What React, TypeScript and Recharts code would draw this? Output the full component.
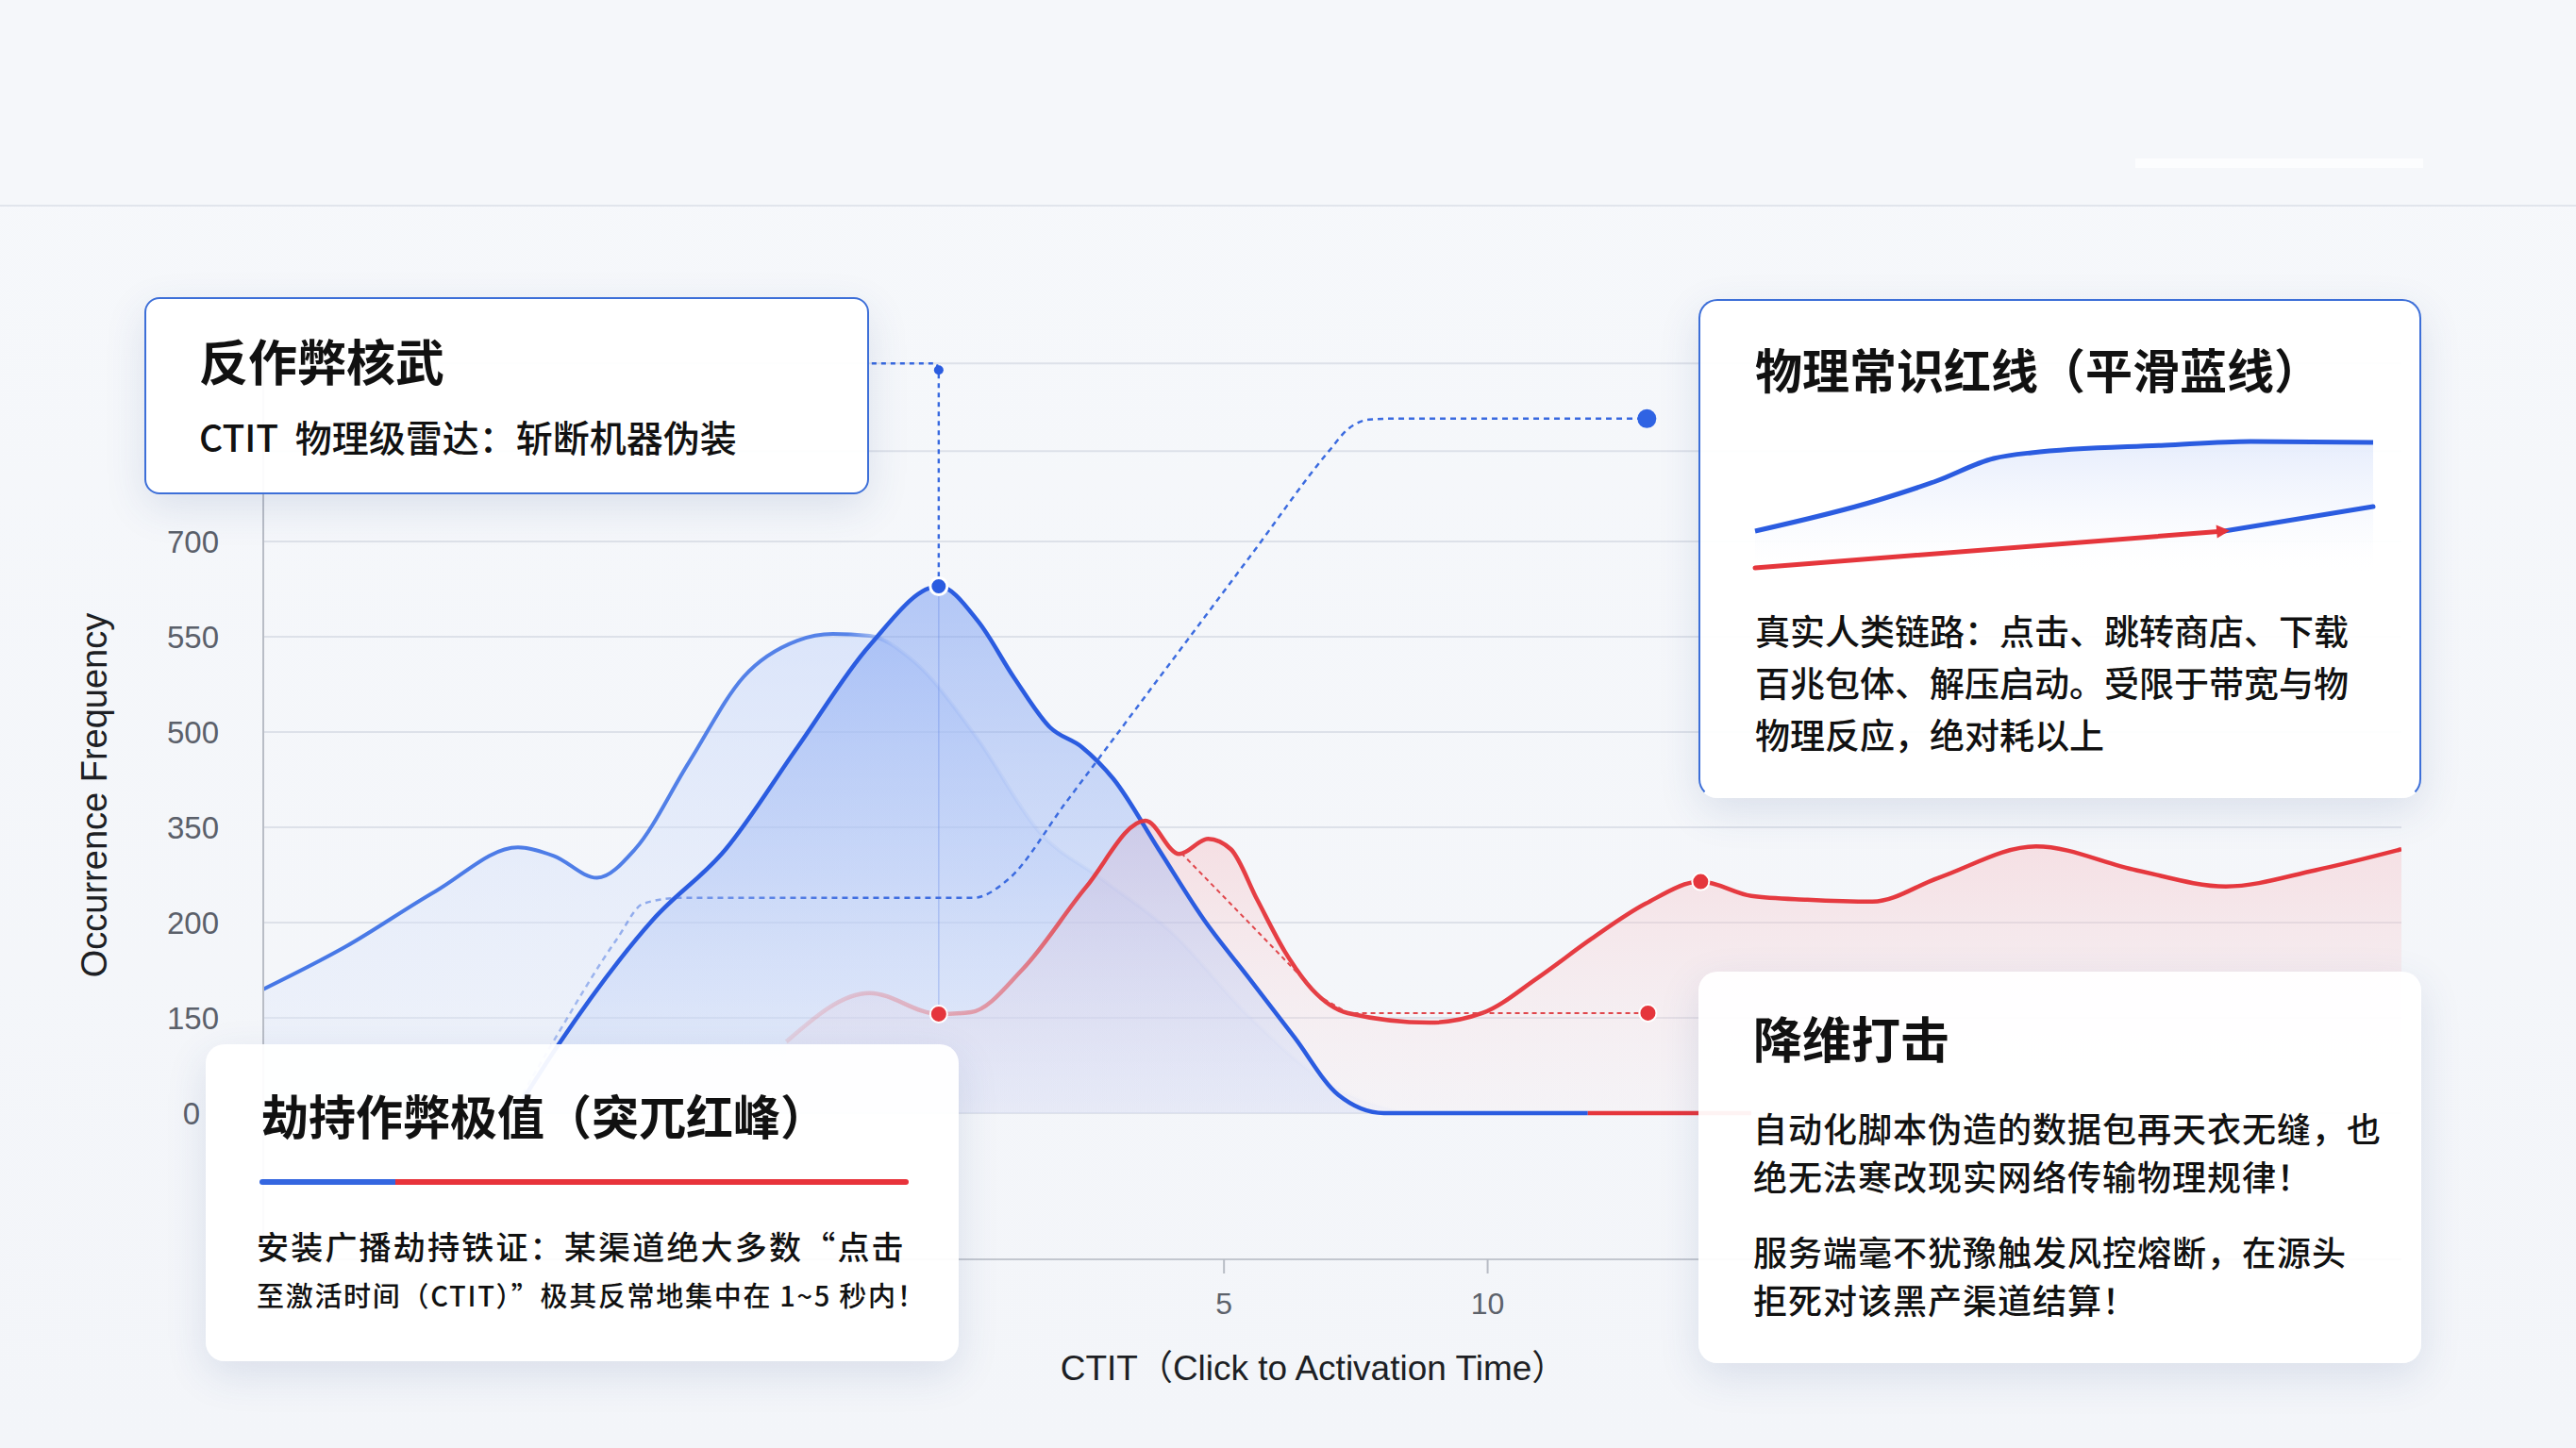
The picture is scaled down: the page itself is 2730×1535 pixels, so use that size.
import React from 'react';
import {
  ComposedChart,
  Area,
  Line,
  XAxis,
  YAxis,
  CartesianGrid,
  ReferenceDot,
} from 'recharts';

// y axis shows evenly spaced levels with these labels (top two grid rows have no label)
const yTicks = [0, 1, 2, 3, 4, 5, 6, 6.95, 7.87];
const yTickLabels = ['0', '150', '200', '350', '500', '550', '700'];
const xTicks = [5, 10];

// wide light-blue distribution (back)
const lightBlueCurve = [
  { x: -13.22, y: 1.3 },
  { x: -11.65, y: 1.75 },
  { x: -9.95, y: 2.33 },
  { x: -8.39, y: 2.79 },
  { x: -7.71, y: 2.7 },
  { x: -6.89, y: 2.47 },
  { x: -6.17, y: 2.77 },
  { x: -5.15, y: 3.68 },
  { x: -4.11, y: 4.58 },
  { x: -3.09, y: 4.96 },
  { x: -2.42, y: 5.03 },
  { x: -1.72, y: 5.01 },
  { x: -0.9, y: 4.75 },
  { x: 0.3, y: 3.95 },
  { x: 1.5, y: 2.95 },
  { x: 2.7, y: 2.45 },
  { x: 4.0, y: 1.9 },
  { x: 5.5, y: 1.0 },
  { x: 7.0, y: 0.3 },
  { x: 8.5, y: 0 },
];

// main blue peak
const blueCurve = [
  { x: -8.4, y: 0.05 },
  { x: -7.62, y: 0.72 },
  { x: -5.83, y: 2.03 },
  { x: -4.45, y: 2.77 },
  { x: -3.09, y: 3.84 },
  { x: -1.72, y: 4.91 },
  { x: -0.41, y: 5.53 },
  { x: 0.34, y: 5.16 },
  { x: 1.02, y: 4.57 },
  { x: 1.7, y: 4.05 },
  { x: 2.31, y: 3.84 },
  { x: 2.9, y: 3.51 },
  { x: 3.76, y: 2.77 },
  { x: 4.62, y: 2.03 },
  { x: 5.47, y: 1.42 },
  { x: 6.33, y: 0.8 },
  { x: 7.17, y: 0.19 },
  { x: 8.03, y: 0 },
  { x: 11.9, y: 0 },
];

const redTail = [
  { x: 11.9, y: 0 },
  { x: 15, y: 0 },
];

// red (hijack) curve
const redCurve = [
  { x: -3.3, y: 0.75 },
  { x: -1.72, y: 1.26 },
  { x: -0.41, y: 1.04 },
  { x: 0.2, y: 1.06 },
  { x: 1.18, y: 1.51 },
  { x: 2.38, y: 2.37 },
  { x: 3.51, y: 3.07 },
  { x: 4.15, y: 2.72 },
  { x: 4.7, y: 2.88 },
  { x: 5.13, y: 2.77 },
  { x: 5.63, y: 2.24 },
  { x: 6.15, y: 1.7 },
  { x: 6.67, y: 1.3 },
  { x: 7.35, y: 1.05 },
  { x: 8.9, y: 0.95 },
  { x: 9.9, y: 1.05 },
  { x: 10.95, y: 1.42 },
  { x: 11.97, y: 1.83 },
  { x: 13.0, y: 2.2 },
  { x: 14.04, y: 2.43 },
  { x: 15.0, y: 2.28 },
  { x: 16.06, y: 2.24 },
  { x: 17.3, y: 2.22 },
  { x: 18.55, y: 2.47 },
  { x: 20.4, y: 2.8 },
  { x: 22.3, y: 2.55 },
  { x: 24.0, y: 2.38 },
  { x: 25.7, y: 2.55 },
  { x: 27.33, y: 2.77 },
];

// dashed cumulative line
const cumulativeLine = [
  { x: -8.3, y: 0.2 },
  { x: -7.71, y: 0.76 },
  { x: -6.51, y: 1.83 },
  { x: -6.01, y: 2.2 },
  { x: -5.31, y: 2.26 },
  { x: 0.25, y: 2.26 },
  { x: 0.9, y: 2.45 },
  { x: 2.0, y: 3.26 },
  { x: 3.5, y: 4.37 },
  { x: 5.49, y: 5.84 },
  { x: 6.99, y: 6.95 },
  { x: 7.35, y: 7.18 },
  { x: 7.75, y: 7.28 },
  { x: 8.2, y: 7.29 },
  { x: 13.02, y: 7.29 },
];

const peakLeader = [
  { x: -1.68, y: 7.87 },
  { x: -0.45, y: 7.87 },
  { x: -0.41, y: 7.8 },
  { x: -0.41, y: 5.53 },
];
const peakDrop = [
  { x: -0.41, y: 5.53 },
  { x: -0.41, y: 1.04 },
];
const redLeader = [
  { x: 4.19, y: 2.73 },
  { x: 5.63, y: 1.91 },
  { x: 6.83, y: 1.22 },
  { x: 7.35, y: 1.05 },
  { x: 13.04, y: 1.05 },
];

const bluePeak = { x: -0.41, y: 5.53 };
const leaderCorner = { x: -0.41, y: 7.8 };
const cumulativeEnd = { x: 13.02, y: 7.29 };
const redMarkers = [
  { x: -0.41, y: 1.04 },
  { x: 13.04, y: 1.05 },
  { x: 14.04, y: 2.43 },
];

// small chart in the top-right card
const miniTop = [
  { x: 0, y: 29.4 },
  { x: 2.0, y: 50 },
  { x: 2.93, y: 62.5 },
  { x: 3.86, y: 77.5 },
  { x: 4.47, y: 81.3 },
  { x: 6.63, y: 86.3 },
  { x: 8.02, y: 88.8 },
  { x: 10, y: 88.1 },
];
const miniRed = [
  { x: 0, y: 5 },
  { x: 7.59, y: 29.4 },
];
const miniBlue = [
  { x: 7.59, y: 29.4 },
  { x: 10, y: 45.6 },
];

const W = 2730;
const H = 1535;
const cjk = '"Noto Sans CJK SC", "Noto Sans", sans-serif';
const latin = '"Liberation Sans", Arial, "Noto Sans CJK SC", sans-serif';

const BLUE = '#2b5ce0';
const RED = '#e5363c';

function Text({ left, top, size, weight = 500, children, spacing = 0 }: any) {
  return (
    <div
      style={{
        position: 'absolute',
        left,
        top,
        fontSize: size,
        lineHeight: `${size}px`,
        fontWeight: weight,
        letterSpacing: spacing,
        color: '#111',
        whiteSpace: 'nowrap',
        fontFamily: cjk,
      }}
    >
      {children}
    </div>
  );
}

const card: React.CSSProperties = {
  position: 'absolute',
  background: 'rgba(255,255,255,0.94)',
  borderRadius: 20,
  boxShadow: '0 14px 44px rgba(50,75,140,0.13)',
  boxSizing: 'border-box',
};

function YTick(props: any) {
  const { x, y, payload } = props;
  const v = payload.value;
  const label = Number.isInteger(v) ? yTickLabels[v] ?? '' : '';
  // the "0" label sits a little further left in the original
  const shift = v === 0 ? 20 : 0;
  return (
    <text
      x={x - shift}
      y={y}
      dy="0.355em"
      textAnchor="end"
      fill="#5b606a"
      fontSize={33}
      fontFamily={latin}
    >
      {label}
    </text>
  );
}

function MiniArrow(props: any) {
  const { cx, cy, index } = props;
  if (index !== 1) return <g key={`m${index}`} />;
  return (
    <path
      key={`m${index}`}
      transform={`rotate(-4.5 ${cx} ${cy})`}
      d={`M ${cx + 6} ${cy} L ${cx - 8} ${cy - 7} L ${cx - 8} ${cy + 7} Z`}
      fill={RED}
    />
  );
}

export default function App() {
  return (
    <div
      style={{
        position: 'absolute',
        left: 0,
        top: 0,
        width: W,
        height: H,
        overflow: 'hidden',
        background: 'linear-gradient(180deg, #f6f8fb 0%, #f3f5f9 100%)',
        fontFamily: cjk,
      }}
    >
      {/* header band */}
      <div style={{ position: 'absolute', left: 0, top: 0, width: W, height: 217, background: '#f5f7fa' }} />
      <div style={{ position: 'absolute', left: 0, top: 217, width: W, height: 2, background: '#e1e5ec' }} />
      <div style={{ position: 'absolute', left: 2263, top: 168, width: 305, height: 10, background: 'rgba(255,255,255,0.7)' }} />

      <div style={{ position: 'absolute', left: 0, top: 0 }}>
        <ComposedChart width={W} height={H} margin={{ top: 360, right: 185, bottom: 140, left: 159 }}>
          <defs>
            <linearGradient id="fillA" x1="0" y1="0" x2="0" y2="1">
              <stop offset="0%" stopColor="#c6d6fa" stopOpacity={0.9} />
              <stop offset="100%" stopColor="#e1e9fb" stopOpacity={0.45} />
            </linearGradient>
            <linearGradient id="strokeA" x1="0" y1="0" x2="1" y2="0">
              <stop offset="0%" stopColor="#4677e6" stopOpacity={1} />
              <stop offset="51%" stopColor="#4677e6" stopOpacity={0.9} />
              <stop offset="55%" stopColor="#4677e6" stopOpacity={0.12} />
              <stop offset="75%" stopColor="#4677e6" stopOpacity={0.06} />
              <stop offset="100%" stopColor="#4677e6" stopOpacity={0} />
            </linearGradient>
            <linearGradient id="fillB" x1="0" y1="0" x2="0" y2="1">
              <stop offset="0%" stopColor="#7399f2" stopOpacity={0.85} />
              <stop offset="55%" stopColor="#98b4f4" stopOpacity={0.62} />
              <stop offset="100%" stopColor="#c5d5f8" stopOpacity={0.38} />
            </linearGradient>
            <linearGradient id="fillRed" x1="0" y1="0" x2="0" y2="1">
              <stop offset="0%" stopColor="#f6b6bb" stopOpacity={0.65} />
              <stop offset="100%" stopColor="#fbe2e4" stopOpacity={0.25} />
            </linearGradient>
            <linearGradient id="strokeRed" x1="0" y1="0" x2="1" y2="0">
              <stop offset="0%" stopColor={RED} stopOpacity={0.12} />
              <stop offset="9%" stopColor={RED} stopOpacity={0.3} />
              <stop offset="14%" stopColor={RED} stopOpacity={0.5} />
              <stop offset="19%" stopColor={RED} stopOpacity={0.95} />
              <stop offset="100%" stopColor={RED} stopOpacity={1} />
            </linearGradient>
            <linearGradient id="strokeCum" x1="0" y1="0" x2="1" y2="0">
              <stop offset="0%" stopColor="#3768df" stopOpacity={0.35} />
              <stop offset="14%" stopColor="#3768df" stopOpacity={0.55} />
              <stop offset="30%" stopColor="#3768df" stopOpacity={0.95} />
              <stop offset="100%" stopColor="#3768df" stopOpacity={1} />
            </linearGradient>
          </defs>
          <CartesianGrid vertical={false} horizontalValues={yTicks} stroke="#dde1e9" strokeWidth={2} />
          <XAxis
            dataKey="x"
            type="number"
            domain={[-13.22, 27.33]}
            allowDataOverflow
            ticks={xTicks}
            height={60}
            tickSize={15}
            tickMargin={20}
            axisLine={{ stroke: '#c3c7cf', strokeWidth: 2 }}
            tickLine={{ stroke: '#b8bcc5', strokeWidth: 2 }}
            tick={{ fill: '#5d626b', fontSize: 32, fontFamily: latin }}
          />
          <YAxis
            type="number"
            domain={[-1.535, 8.12]}
            allowDataOverflow
            ticks={yTicks}
            width={120}
            tickSize={0}
            tickMargin={47}
            axisLine={{ stroke: '#b9bdc6', strokeWidth: 2 }}
            tickLine={false}
            tick={YTick}
          />

          <Area
            data={lightBlueCurve}
            dataKey="y"
            type="monotone"
            stroke="url(#strokeA)"
            strokeWidth={4}
            fill="url(#fillA)"
            dot={false}
            activeDot={false}
            isAnimationActive={false}
          />
          <Area
            data={redCurve}
            dataKey="y"
            type="monotone"
            stroke="none"
            fill="url(#fillRed)"
            dot={false}
            activeDot={false}
            isAnimationActive={false}
          />
          <Area
            data={blueCurve}
            dataKey="y"
            type="monotone"
            stroke="none"
            fill="url(#fillB)"
            dot={false}
            activeDot={false}
            isAnimationActive={false}
          />
          <Line
            data={blueCurve}
            dataKey="y"
            type="monotone"
            stroke={BLUE}
            strokeWidth={4.5}
            dot={false}
            activeDot={false}
            isAnimationActive={false}
          />
          <Line
            data={redCurve}
            dataKey="y"
            type="monotone"
            stroke="url(#strokeRed)"
            strokeWidth={4.5}
            dot={false}
            activeDot={false}
            isAnimationActive={false}
          />
          <Line
            data={redTail}
            dataKey="y"
            type="linear"
            stroke={RED}
            strokeWidth={4.5}
            dot={false}
            activeDot={false}
            isAnimationActive={false}
          />
          <Line
            data={cumulativeLine}
            dataKey="y"
            type="monotone"
            stroke="url(#strokeCum)"
            strokeWidth={2.5}
            strokeDasharray="6 5"
            dot={false}
            activeDot={false}
            isAnimationActive={false}
          />
          <Line
            data={peakDrop}
            dataKey="y"
            type="linear"
            stroke="rgba(80,120,230,0.3)"
            strokeWidth={1.5}
            dot={false}
            activeDot={false}
            isAnimationActive={false}
          />
          <Line
            data={peakLeader}
            dataKey="y"
            type="linear"
            stroke="#3768df"
            strokeWidth={2.4}
            strokeDasharray="5 5"
            dot={false}
            activeDot={false}
            isAnimationActive={false}
          />
          <Line
            data={redLeader}
            dataKey="y"
            type="linear"
            stroke="#e0474c"
            strokeWidth={2}
            strokeDasharray="5 4"
            dot={false}
            activeDot={false}
            isAnimationActive={false}
          />

          <ReferenceDot x={bluePeak.x} y={bluePeak.y} r={9} fill={BLUE} stroke="#fff" strokeWidth={3} />
          <ReferenceDot x={leaderCorner.x} y={leaderCorner.y} r={5} fill={BLUE} stroke="none" />
          <ReferenceDot x={cumulativeEnd.x} y={cumulativeEnd.y} r={10} fill="#2f63e3" stroke="none" />
          {redMarkers.map((p, i) => (
            <ReferenceDot key={i} x={p.x} y={p.y} r={9} fill={RED} stroke="#fff" strokeWidth={2} />
          ))}
        </ComposedChart>
      </div>

      {/* axis titles */}
      <div
        style={{
          position: 'absolute',
          left: 992,
          top: 1432,
          width: 800,
          textAlign: 'center',
          fontSize: 37,
          lineHeight: '37px',
          color: '#1d1f24',
          fontFamily: latin,
          whiteSpace: 'nowrap',
        }}
      >
        CTIT（Click to Activation Time）
      </div>
      <div
        style={{
          position: 'absolute',
          left: 100 - 300,
          top: 843 - 19,
          width: 600,
          textAlign: 'center',
          fontSize: 38,
          lineHeight: '38px',
          color: '#1d1f24',
          fontFamily: latin,
          whiteSpace: 'nowrap',
          transform: 'rotate(-90deg)',
        }}
      >
        Occurrence Frequency
      </div>

      {/* top-left card */}
      <div style={{ ...card, left: 153, top: 315, width: 768, height: 209, borderRadius: 16, border: '2.5px solid #3d6fd8' }} />
      <Text left={211} top={356} size={52} weight={700}>反作弊核武</Text>
      <Text left={211} top={443} size={39}>CTIT&nbsp;&nbsp;物理级雷达：斩断机器伪装</Text>

      {/* top-right card */}
      <div
        style={{
          ...card,
          left: 1800,
          top: 317,
          width: 766,
          height: 529,
          border: '2.5px solid #3d6fd8',
          borderBottomColor: 'rgba(255,255,255,0.6)',
        }}
      />
      <Text left={1860} top={365} size={50} weight={700}>物理常识红线（平滑蓝线）</Text>
      <div style={{ position: 'absolute', left: 1850, top: 440 }}>
        <ComposedChart width={675} height={185} margin={{ top: 10, right: 10, bottom: 15, left: 10 }}>
          <defs>
            <linearGradient id="miniFill" x1="0" y1="0" x2="0" y2="1">
              <stop offset="0%" stopColor="#6f95ee" stopOpacity={0.28} />
              <stop offset="75%" stopColor="#9fb8f3" stopOpacity={0.05} />
              <stop offset="100%" stopColor="#ffffff" stopOpacity={0} />
            </linearGradient>
          </defs>
          <XAxis dataKey="x" type="number" domain={[0, 10]} hide />
          <YAxis type="number" domain={[0, 100]} hide />
          <Area
            data={miniTop}
            dataKey="y"
            type="monotone"
            stroke={BLUE}
            strokeWidth={5}
            fill="url(#miniFill)"
            dot={false}
            activeDot={false}
            isAnimationActive={false}
          />
          <Line
            data={miniBlue}
            dataKey="y"
            type="linear"
            stroke={BLUE}
            strokeWidth={5}
            strokeLinecap="round"
            dot={false}
            activeDot={false}
            isAnimationActive={false}
          />
          <Line
            data={miniRed}
            dataKey="y"
            type="linear"
            stroke={RED}
            strokeWidth={5}
            strokeLinecap="round"
            dot={MiniArrow}
            activeDot={false}
            isAnimationActive={false}
          />
        </ComposedChart>
      </div>
      <div
        style={{
          position: 'absolute',
          left: 1860,
          top: 641,
          fontSize: 37,
          lineHeight: '55px',
          fontWeight: 500,
          color: '#111',
          fontFamily: cjk,
          whiteSpace: 'nowrap',
        }}
      >
        真实人类链路：点击、跳转商店、下载
        <br />
        百兆包体、解压启动。受限于带宽与物
        <br />
        物理反应，绝对耗以上
      </div>

      {/* bottom-left card */}
      <div style={{ ...card, left: 218, top: 1107, width: 798, height: 336 }} />
      <Text left={277} top={1156} size={50} weight={700}>劫持作弊极值（突兀红峰）</Text>
      <div
        style={{
          position: 'absolute',
          left: 275,
          top: 1250,
          width: 688,
          height: 6,
          borderRadius: 3,
          background: 'linear-gradient(90deg, #3466e0 0%, #3466e0 21%, #e8333b 21%, #e8333b 100%)',
        }}
      />
      <Text left={272} top={1304} size={34} spacing={2.2}>安装广播劫持铁证：某渠道绝大多数“点击</Text>
      <Text left={272} top={1358} size={29} spacing={1.7}>至激活时间（CTIT）”极其反常地集中在 1~5 秒内！</Text>

      {/* bottom-right card */}
      <div style={{ ...card, left: 1800, top: 1030, width: 766, height: 415 }} />
      <Text left={1858} top={1074} size={52} weight={700}>降维打击</Text>
      <Text left={1858} top={1177} size={36} spacing={1}>自动化脚本伪造的数据包再天衣无缝，也</Text>
      <Text left={1858} top={1228} size={36} spacing={1}>绝无法寒改现实网络传输物理规律！</Text>
      <Text left={1858} top={1308} size={36} spacing={1}>服务端毫不犹豫触发风控熔断，在源头</Text>
      <Text left={1858} top={1359} size={36} spacing={1}>拒死对该黑产渠道结算！</Text>
    </div>
  );
}
